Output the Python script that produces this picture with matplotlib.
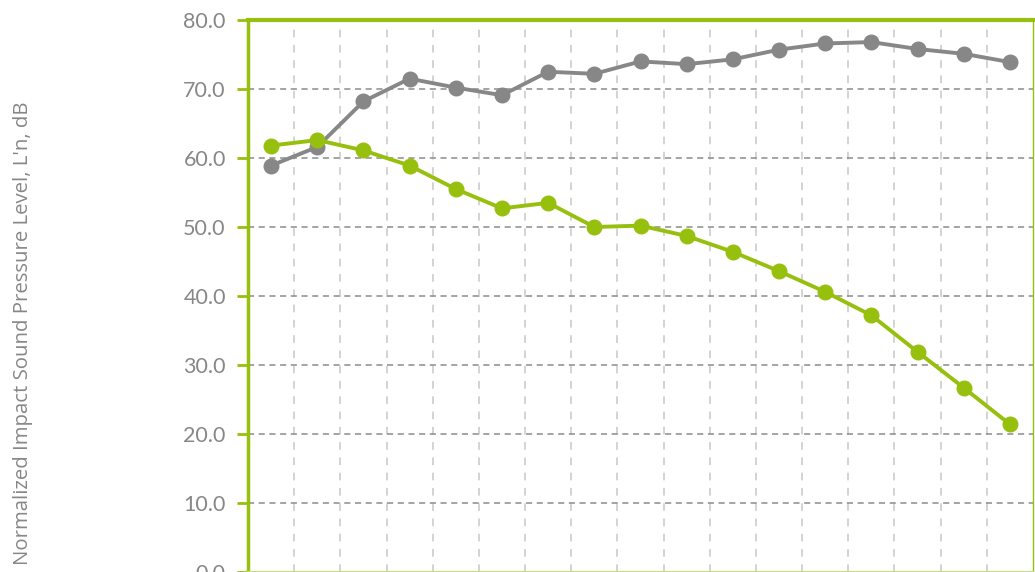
import matplotlib.pyplot as plt
from matplotlib.ticker import FixedLocator

# 1/3 octave bands (their labels sit below the visible area)
freqs = ["100", "125", "160", "200", "250", "315", "400", "500", "630",
         "800", "1000", "1250", "1600", "2000", "2500", "3150", "4000"]
gray_vals = [58.9, 61.6, 68.2, 71.5, 70.2, 69.1, 72.5, 72.2, 74.0,
             73.6, 74.3, 75.7, 76.6, 76.8, 75.8, 75.1, 73.9]
green_vals = [61.8, 62.6, 61.1, 58.9, 55.5, 52.7, 53.5, 50.0, 50.2,
              48.7, 46.4, 43.6, 40.6, 37.2, 31.9, 26.7, 21.4]
yticks = [0, 10, 20, 30, 40, 50, 60, 70, 80]

GREEN = "#97c00e"
GRAY = "#878787"

plt.rcParams['font.family'] = ['Lato', 'DejaVu Sans']

fig = plt.figure(figsize=(10.35, 5.72), dpi=100)
ax = fig.add_axes([248 / 1035, 0.0, (1033 - 248) / 1035, (572 - 20) / 572])

x = list(range(len(freqs)))
ax.plot(x, gray_vals, color=GRAY, lw=2.8, marker="o", ms=10.5, zorder=3)
ax.plot(x, green_vals, color=GREEN, lw=2.8, marker="o", ms=10.5, zorder=4)

ax.set_xlim(-0.5, len(freqs) - 0.5)
ax.set_ylim(0, 80)
ax.set_yticks(yticks)
ax.set_yticklabels(["%.1f" % v for v in yticks])
ax.set_xticks(x)
ax.set_xticklabels([])
ax.tick_params(axis="x", length=0)
ax.tick_params(axis="y", length=8, width=2, color=GREEN, labelcolor=GRAY,
               labelsize=15.5, pad=8)

# grid: horizontal at major y ticks, vertical between categories
ax.yaxis.grid(True, color="#8c8c8c", lw=1.1, ls=(0, (4, 3)))
ax.xaxis.set_minor_locator(FixedLocator([i + 0.5 for i in x[:-1]]))
ax.tick_params(axis="x", which="minor", length=0)
ax.xaxis.grid(True, which="minor", color="#c8c8c8", lw=1.1, ls=(0, (5, 5)))
ax.set_axisbelow(True)

ax.spines["left"].set_color(GREEN)
ax.spines["left"].set_linewidth(2.5)
ax.spines["top"].set_color(GREEN)
ax.spines["top"].set_linewidth(3)
ax.spines["right"].set_color(GREEN)
ax.spines["right"].set_linewidth(1)
ax.spines["bottom"].set_color("#c5dc85")
ax.spines["bottom"].set_linewidth(1.5)

fig.text(23 / 1035, 1 - 333 / 572, "Normalized Impact Sound Pressure Level, L'n, dB",
         rotation=90, ha="center", va="center", color=GRAY, fontsize=14.7,
         family=["Open Sans", "DejaVu Sans"])

fig.savefig("out.png", dpi=100)
